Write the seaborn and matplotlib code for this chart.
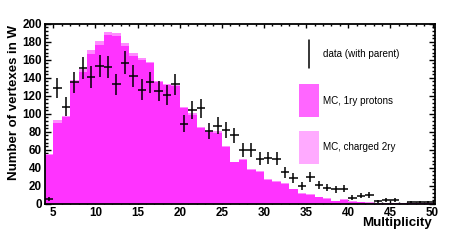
import numpy as np
import pandas as pd
import matplotlib
matplotlib.use("Agg")
import matplotlib.pyplot as plt
import matplotlib.patches as mpatches
from matplotlib.ticker import MultipleLocator
import seaborn as sns

# bins of multiplicity (lower edges), 4 .. 49
bin_lo = list(range(4, 50))

# MC, 1ry protons (magenta)
mc_proton = [54, 90, 96, 135, 147, 167, 177, 188, 186, 175,
             164, 160, 156, 135, 132, 131, 106, 99, 84, 80,
             79, 63, 46, 49, 38, 35, 27, 24, 22, 16,
             11, 9.5, 7.5, 5.5, 3, 4.5, 2.5, 2, 1.5, 1,
             1, 0.8, 0.5, 0.5, 0.5, 0.5]

# MC, charged 2ry (stacked on top, light pink)
mc_charged = [1, 3, 2, 3, 3, 3.5, 3.5, 3.5, 3.5, 3.5,
              3.5, 2.5, 2, 1.5, 1.5, 1.5, 1.5, 1.5, 1.5, 1.5,
              1.5, 1.5, 1, 1, 1, 1, 1, 1, 1, 1,
              1, 1, 0.5, 0.5, 0.5, 0.5, 0.5, 0.5, 0.5, 0.5,
              0.5, 0.5, 0.5, 0.5, 0.5, 0.5]

# data (with parent)
data_val = [5, 129, 108, 135, 151, 141, 153, 152, 133, 157,
            142, 127, 135, 125, 121, 133, 89, 104, 106, 81,
            87, 82, 76, 60, 60, 50, 51, 50, 35, 29,
            20, 30, 21, 18, 16, 17, 7, 9, 10, 3,
            4, 4, np.nan, 2, 2, 2]
data_err = [2.2, 11.4, 10.4, 11.6, 12.3, 11.9, 12.4, 12.3, 11.5, 12.5,
            11.9, 11.3, 11.6, 11.2, 11.0, 11.5, 9.4, 10.2, 10.3, 9.0,
            9.3, 9.1, 8.7, 7.7, 7.7, 7.1, 7.1, 7.1, 5.9, 5.4,
            4.5, 5.5, 4.6, 4.2, 4.0, 4.1, 2.6, 3.0, 3.2, 1.7,
            2.0, 2.0, 0, 1.4, 1.4, 1.4]

sns.set_theme(style="ticks")
plt.rcParams["font.family"] = ["Liberation Sans", "DejaVu Sans"]
plt.rcParams["text.color"] = "black"
plt.rcParams["axes.labelcolor"] = "black"
plt.rcParams["xtick.color"] = "black"
plt.rcParams["ytick.color"] = "black"

centers = [b + 0.5 for b in bin_lo]
edges = bin_lo + [bin_lo[-1] + 1]

df = pd.DataFrame({
    "mult": centers + centers,
    "count": mc_proton + mc_charged,
    "source": ["1ry protons"] * len(centers) + ["charged 2ry"] * len(centers),
})

fig = plt.figure(figsize=(4.57, 2.41), dpi=100)
ax = fig.add_axes([0.098, 0.154, 0.854, 0.747])

# stacked MC histogram (first hue level ends up on top)
sns.histplot(data=df, x="mult", weights="count", hue="source",
             hue_order=["charged 2ry", "1ry protons"], multiple="stack",
             bins=edges, element="step", fill=True, alpha=1, linewidth=0,
             palette={"1ry protons": "#FF33FF", "charged 2ry": "#FF8CFF"},
             legend=False, ax=ax)

# data points
ax.errorbar(centers, data_val, xerr=0.5, yerr=data_err, fmt="none",
            ecolor="black", elinewidth=1.1, capsize=0, zorder=5)

ax.set_xlim(4, 50.3)
ax.set_ylim(0, 200)
ax.xaxis.set_major_locator(MultipleLocator(5))
ax.xaxis.set_minor_locator(MultipleLocator(1))
ax.yaxis.set_major_locator(MultipleLocator(20))
ax.yaxis.set_minor_locator(MultipleLocator(4))
ax.set_xticks(range(5, 51, 5))

ax.tick_params(axis="both", which="both", direction="in", top=True, right=True,
               color="black", labelcolor="black", width=1)
ax.tick_params(axis="x", which="major", length=3, labelsize=8.4, pad=2)
ax.tick_params(axis="x", which="minor", length=1.6)
ax.tick_params(axis="y", which="major", length=4.5, labelsize=8.4, pad=2)
ax.tick_params(axis="y", which="minor", length=2.4)
for lab in ax.get_xticklabels() + ax.get_yticklabels():
    lab.set_fontweight("bold")
for sp in ax.spines.values():
    sp.set_linewidth(1.3)
    sp.set_color("black")

ax.set_xlabel("Multiplicity", fontsize=9.6, fontweight="bold", loc="right", color="black")
ax.xaxis.set_label_coords(0.992, -0.075)
ax.set_ylabel("Number of vertexes in W", fontsize=9.5, fontweight="bold", loc="top", color="black")
ax.yaxis.set_label_coords(-0.063, 0.995)

# legend, drawn ROOT style
ax.plot([0.677, 0.677], [0.756, 0.911], transform=ax.transAxes,
        color="black", linewidth=1.1)
ax.text(0.713, 0.833, "data (with parent)", transform=ax.transAxes,
        fontsize=7.1, va="center", ha="left", color="black")
ax.add_patch(mpatches.Rectangle((0.651, 0.483), 0.052, 0.184,
                                transform=ax.transAxes, facecolor="#FF66FF",
                                edgecolor="none"))
ax.text(0.713, 0.574, "MC, 1ry protons", transform=ax.transAxes,
        fontsize=7.1, va="center", ha="left", color="black")
ax.add_patch(mpatches.Rectangle((0.651, 0.222), 0.052, 0.184,
                                transform=ax.transAxes, facecolor="#FFAAFF",
                                edgecolor="none"))
ax.text(0.713, 0.318, "MC, charged 2ry", transform=ax.transAxes,
        fontsize=7.1, va="center", ha="left", color="black")

fig.savefig("out.png", dpi=100)
plt.close()
